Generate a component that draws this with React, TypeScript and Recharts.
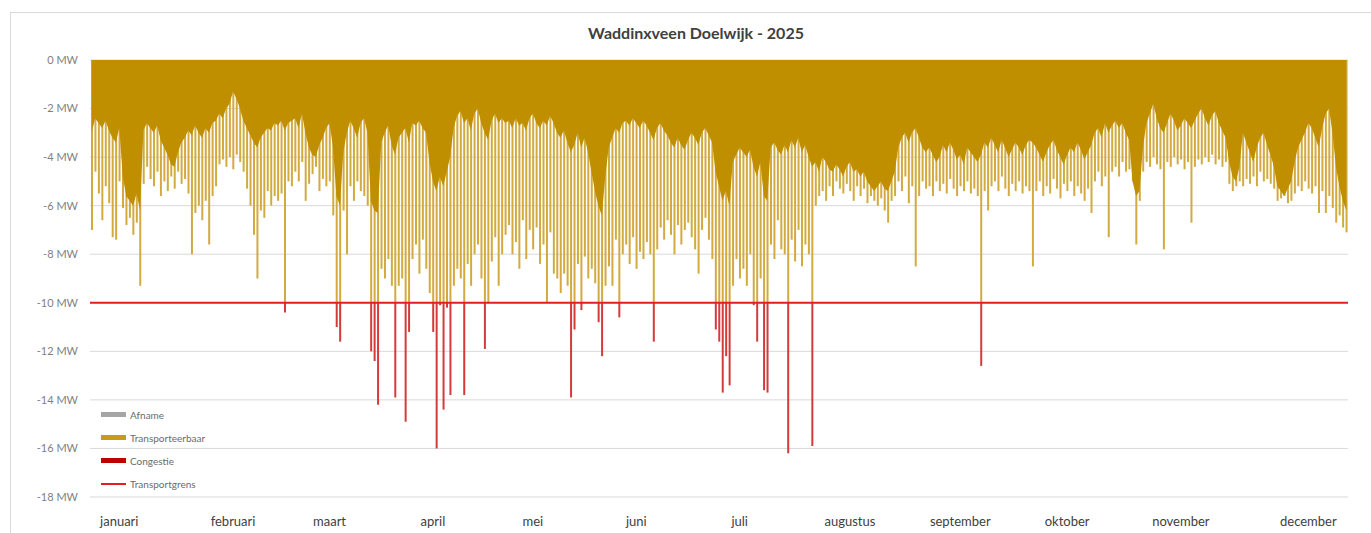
import {
  ComposedChart,
  Bar,
  Area,
  XAxis,
  YAxis,
  CartesianGrid,
  ReferenceLine,
} from "recharts";

// maanden + positie (dag van het jaar) van de labels
const MONTHS = [
  "januari", "februari", "maart", "april", "mei", "juni",
  "juli", "augustus", "september", "oktober", "november", "december",
];
const MONTH_LABEL_DAY = [9, 42, 70, 100, 129, 159, 189, 221, 253, 284, 317, 354];

const Y_TICKS = [0, -2, -4, -6, -8, -10, -12, -14, -16, -18];
const TRANSPORTGRENS = -10;

// diepste piek per dag (MW)
const PEAK_JAN = [-7.0, -4.6, -5.5, -6.6, -5.2, -5.9, -7.3, -7.4, -5.0, -6.1, -6.8, -6.5, -7.2, -6.7, -9.3, -5.1, -4.4, -4.9, -5.2, -4.6, -5.6, -5.0, -5.4, -4.8, -5.3, -4.6, -5.1, -4.9, -5.5, -8.0, -6.3];
const PEAK_FEB = [-6.0, -6.6, -5.8, -7.6, -5.6, -5.2, -4.3, -4.1, -4.4, -4.0, -4.5, -3.9, -4.2, -4.6, -5.3, -6.0, -7.2, -9.0, -6.2, -6.5, -5.4, -6.0, -5.6, -5.8, -5.5, -10.4, -5.0, -5.2];
const PEAK_MAR = [-4.6, -5.0, -4.2, -5.8, -5.1, -4.7, -4.4, -5.4, -4.9, -5.2, -5.0, -6.4, -11.0, -11.6, -6.2, -8.0, -5.2, -5.8, -5.0, -5.4, -5.6, -6.0, -12.0, -12.4, -14.2, -8.6, -9.0, -8.2, -9.3, -13.9, -9.3];
const PEAK_APR = [-9.0, -14.9, -11.2, -8.2, -7.6, -8.8, -7.4, -8.6, -9.6, -11.2, -16.0, -10.1, -14.4, -10.2, -13.8, -9.3, -8.6, -9.0, -13.8, -8.4, -9.3, -8.0, -7.6, -9.0, -11.9, -10.0, -8.3, -7.3, -9.3, -8.0];
const PEAK_MEI = [-7.2, -6.8, -8.0, -7.5, -8.6, -6.6, -8.2, -7.0, -7.8, -6.9, -8.4, -7.6, -10.0, -7.1, -8.8, -9.0, -9.6, -8.8, -9.3, -13.9, -11.1, -8.4, -10.3, -8.1, -9.0, -8.6, -9.2, -10.8, -12.2, -9.3, -8.5];
const PEAK_JUN = [-9.3, -7.4, -10.6, -8.0, -7.6, -8.4, -7.3, -8.6, -7.9, -8.2, -7.5, -8.0, -11.6, -7.8, -6.9, -7.4, -6.6, -7.2, -8.0, -6.8, -7.6, -7.0, -6.7, -7.3, -7.8, -8.8, -7.0, -6.5, -7.4, -8.2];
const PEAK_JUL = [-11.1, -11.6, -13.7, -12.2, -13.4, -9.3, -8.2, -9.0, -8.6, -9.3, -8.0, -10.1, -11.6, -9.0, -13.6, -13.7, -7.6, -8.2, -6.6, -7.8, -8.0, -16.2, -7.4, -8.3, -7.0, -8.5, -7.6, -8.0, -15.9, -6.0, -5.6];
const PEAK_AUG = [-5.4, -5.8, -5.2, -5.6, -5.0, -5.3, -5.5, -5.1, -5.4, -5.8, -5.2, -5.6, -5.3, -5.9, -5.6, -5.8, -6.0, -5.7, -6.2, -6.7, -5.8, -5.6, -5.0, -5.4, -4.8, -5.9, -5.2, -8.5, -5.6, -5.0, -5.3];
const PEAK_SEP = [-5.2, -5.6, -5.0, -5.4, -5.1, -5.5, -4.9, -5.3, -5.6, -5.2, -5.4, -5.0, -5.5, -5.3, -5.6, -12.6, -5.4, -6.2, -5.2, -5.0, -5.4, -4.8, -5.3, -5.6, -5.1, -5.4, -5.0, -5.5, -5.2, -5.4];
const PEAK_OKT = [-8.5, -5.4, -5.0, -5.6, -5.2, -5.5, -4.9, -5.3, -5.7, -5.1, -5.4, -5.0, -5.6, -5.2, -5.5, -5.8, -5.3, -6.3, -5.0, -4.6, -5.2, -4.8, -7.3, -4.6, -4.4, -4.8, -4.2, -4.6, -4.5, -5.0, -7.6];
const PEAK_NOV = [-5.8, -4.6, -4.2, -4.4, -4.0, -4.3, -4.5, -7.8, -4.2, -4.4, -4.0, -4.3, -4.1, -4.5, -4.2, -6.7, -4.4, -4.1, -4.3, -4.0, -4.2, -3.9, -4.3, -4.1, -4.4, -4.2, -5.1, -5.4, -5.2, -5.0];
const PEAK_DEC = [-5.2, -4.9, -5.1, -4.8, -5.2, -4.6, -5.0, -4.9, -5.1, -5.3, -5.8, -5.7, -5.6, -5.9, -5.8, -5.5, -5.2, -5.4, -5.0, -5.3, -5.5, -5.2, -6.3, -5.4, -6.3, -5.6, -6.1, -6.7, -6.4, -6.9, -7.1];

// basislast per dag (dichte band bovenin, MW)
const FLOOR_JAN = [-3.0, -2.4, -2.6, -2.8, -2.5, -2.9, -3.2, -3.4, -2.8, -4.8, -5.6, -5.8, -6.0, -5.5, -6.2, -2.9, -2.6, -2.8, -3.0, -2.7, -3.3, -3.6, -3.9, -4.3, -4.4, -3.8, -3.4, -3.2, -2.9, -3.1, -2.7];
const FLOOR_FEB = [-3.0, -3.2, -2.8, -3.0, -2.6, -2.5, -2.2, -2.4, -2.0, -1.8, -1.3, -1.6, -2.0, -2.5, -2.8, -3.1, -3.4, -3.6, -3.2, -3.0, -2.8, -2.9, -2.6, -2.7, -2.5, -2.9, -2.6, -2.5];
const FLOOR_MAR = [-2.4, -2.8, -2.2, -3.0, -3.6, -3.9, -4.0, -3.5, -3.2, -2.8, -2.6, -3.6, -5.6, -6.0, -3.8, -3.0, -2.5, -2.8, -3.2, -2.6, -2.4, -3.0, -5.8, -6.2, -6.3, -3.4, -3.0, -2.7, -3.5, -3.9, -3.2];
const FLOOR_APR = [-3.0, -2.8, -3.4, -2.6, -2.7, -2.5, -2.8, -3.0, -4.2, -5.0, -5.4, -4.8, -5.2, -4.6, -4.0, -2.8, -2.3, -2.1, -2.6, -2.4, -2.9, -2.2, -2.0, -2.6, -3.0, -3.3, -2.5, -2.2, -2.6, -2.4];
const FLOOR_MEI = [-2.6, -2.5, -2.8, -2.4, -2.7, -2.6, -2.9, -2.4, -2.2, -2.6, -2.8, -2.5, -2.7, -2.3, -2.6, -3.0, -3.2, -2.9, -3.4, -3.8, -3.5, -3.0, -3.6, -3.2, -3.8, -4.6, -5.4, -6.0, -6.4, -4.8, -3.6];
const FLOOR_JUN = [-3.2, -2.8, -3.0, -2.6, -2.5, -2.7, -2.4, -2.6, -2.8, -2.5, -2.7, -3.0, -3.3, -2.8, -2.6, -2.9, -3.1, -3.4, -3.6, -3.2, -3.5, -3.7, -3.3, -3.0, -3.2, -3.5, -3.0, -2.8, -3.1, -3.4];
const FLOOR_JUL = [-4.6, -5.2, -5.8, -5.4, -6.0, -4.2, -3.9, -3.6, -3.8, -4.0, -3.7, -4.4, -4.8, -4.2, -5.6, -5.8, -3.6, -3.4, -3.7, -3.9, -3.5, -3.8, -3.3, -3.6, -3.2, -3.8, -3.5, -4.0, -4.4, -4.2, -4.6];
const FLOOR_AUG = [-4.0, -4.2, -4.5, -4.6, -4.3, -4.5, -4.8, -4.4, -4.2, -4.6, -4.5, -4.8, -4.6, -5.0, -5.2, -5.4, -5.2, -5.0, -5.3, -5.4, -5.0, -4.6, -3.6, -3.2, -3.0, -3.4, -3.0, -2.8, -3.2, -3.6, -3.8];
const FLOOR_SEP = [-3.6, -3.9, -4.2, -4.0, -3.5, -3.8, -3.4, -3.7, -4.1, -3.9, -4.3, -3.6, -3.8, -4.0, -4.2, -3.9, -3.4, -3.6, -3.2, -3.5, -3.8, -3.3, -3.6, -4.0, -3.7, -3.4, -3.6, -3.9, -3.5, -3.3];
const FLOOR_OKT = [-3.4, -3.6, -3.9, -4.2, -3.8, -3.5, -3.3, -3.7, -4.0, -4.3, -3.9, -3.6, -3.8, -3.4, -3.7, -4.1, -3.8, -3.5, -3.0, -2.8, -3.2, -2.6, -3.0, -2.7, -2.5, -2.8, -2.6, -3.0, -3.3, -5.0, -5.6];
const FLOOR_NOV = [-5.4, -3.6, -2.6, -2.2, -1.8, -2.4, -2.8, -3.0, -2.6, -2.2, -2.5, -2.9, -2.7, -2.4, -2.6, -2.8, -2.5, -2.2, -2.0, -2.4, -2.7, -2.3, -2.1, -2.6, -2.9, -3.2, -4.2, -4.8, -5.0, -4.4];
const FLOOR_DEC = [-3.0, -3.4, -3.8, -4.2, -3.6, -3.2, -3.0, -3.5, -3.9, -4.4, -5.2, -5.4, -5.6, -5.3, -5.0, -4.2, -3.6, -3.3, -3.0, -2.6, -2.8, -3.2, -3.6, -2.8, -2.2, -2.0, -3.0, -4.4, -5.2, -5.8, -6.2];

const PEAK = [
  ...PEAK_JAN, ...PEAK_FEB, ...PEAK_MAR, ...PEAK_APR, ...PEAK_MEI, ...PEAK_JUN,
  ...PEAK_JUL, ...PEAK_AUG, ...PEAK_SEP, ...PEAK_OKT, ...PEAK_NOV, ...PEAK_DEC,
];
const FLOOR = [
  ...FLOOR_JAN, ...FLOOR_FEB, ...FLOOR_MAR, ...FLOOR_APR, ...FLOOR_MEI, ...FLOOR_JUN,
  ...FLOOR_JUL, ...FLOOR_AUG, ...FLOOR_SEP, ...FLOOR_OKT, ...FLOOR_NOV, ...FLOOR_DEC,
];

const data = PEAK.map((p, i) => ({
  day: i + 1,
  basis: FLOOR[i],
  transporteerbaar: Math.max(p, TRANSPORTGRENS),
  congestie: p < TRANSPORTGRENS ? p - TRANSPORTGRENS : 0,
}));

const GOLD = "#bf8f00";
const GOLD_LIGHT = "#d2aa40";
const RED = "#d43a3a";

const legendItems = [
  { label: "Afname", color: "#a5a5a5", line: false },
  { label: "Transporteerbaar", color: "#c99b14", line: false },
  { label: "Congestie", color: "#c00000", line: false },
  { label: "Transportgrens", color: "#e02020", line: true },
];

function ChartLegend() {
  return (
    <div style={{ position: "absolute", left: 101, top: 403 }}>
      {legendItems.map((it) => (
        <div
          key={it.label}
          style={{ display: "flex", alignItems: "center", height: 23, fontSize: 10, color: "#6b6b6b" }}
        >
          <span
            style={{
              display: "inline-block",
              width: 25,
              height: it.line ? 2 : 5,
              background: it.color,
              marginRight: 4,
            }}
          />
          {it.label}
        </div>
      ))}
    </div>
  );
}

export default function App() {
  return (
    <div
      style={{
        position: "absolute",
        left: 0,
        top: 0,
        width: 1371,
        height: 533,
        background: "#fff",
        overflow: "hidden",
        fontFamily: "Lato, 'Open Sans', sans-serif",
      }}
    >
      <div
        style={{
          position: "absolute",
          left: 10,
          top: 12,
          width: 1370,
          height: 530,
          border: "1px solid #d9d9d9",
        }}
      />
      <div
        style={{
          position: "absolute",
          left: 496,
          top: 24,
          width: 400,
          textAlign: "center",
          fontSize: 16,
          lineHeight: "18px",
          fontWeight: 700,
          color: "#404040",
        }}
      >
        Waddinxveen Doelwijk - 2025
      </div>
      <div style={{ position: "absolute", left: 0, top: 0 }}>
        <ComposedChart
          width={1371}
          height={533}
          data={data}
          margin={{ top: 60, right: 23, bottom: 6, left: 10 }}
        >
          <CartesianGrid vertical={false} stroke="#d9d9d9" />
          <XAxis
            dataKey="day"
            type="category"
            ticks={MONTH_LABEL_DAY}
            interval={0}
            tickFormatter={(v: number) => MONTHS[MONTH_LABEL_DAY.indexOf(v)] ?? ""}
            axisLine={false}
            tickLine={false}
            tickSize={0}
            tickMargin={20}
            height={30}
            tick={{ fontSize: 13, fill: "#404040" }}
          />
          <YAxis
            domain={[-18, 0]}
            ticks={Y_TICKS}
            interval={0}
            tickFormatter={(v: number) => `${v} MW`}
            axisLine={false}
            tickLine={false}
            tickSize={0}
            tickMargin={12}
            width={80}
            tick={{ fontSize: 11, fill: "#7f7f7f" }}
          />
          <Bar
            dataKey="transporteerbaar"
            stackId="a"
            fill={GOLD_LIGHT}
            barSize={2}
            isAnimationActive={false}
          />
          <Bar
            dataKey="congestie"
            stackId="a"
            fill={RED}
            barSize={2}
            isAnimationActive={false}
          />
          <Area
            dataKey="basis"
            type="linear"
            baseValue={0}
            fill={GOLD}
            fillOpacity={1}
            stroke="none"
            dot={false}
            activeDot={false}
            zIndex={450}
            isAnimationActive={false}
          />
          <ReferenceLine y={TRANSPORTGRENS} stroke="#e02020" strokeWidth={2} zIndex={500} />
        </ComposedChart>
      </div>
      <ChartLegend />
    </div>
  );
}
